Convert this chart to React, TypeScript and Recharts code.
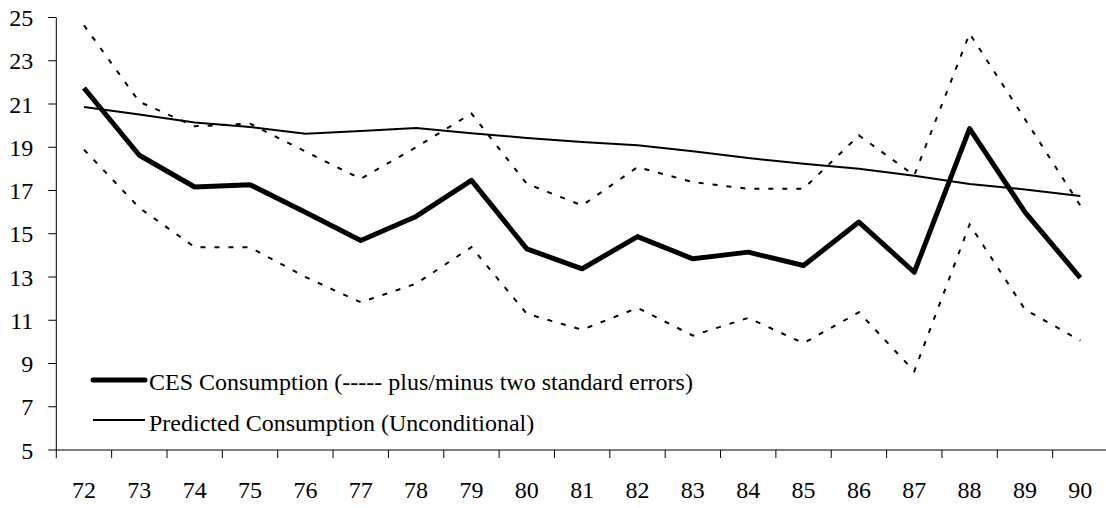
import React from 'react';
import { LineChart, Line, XAxis, YAxis } from 'recharts';

const years = ['72', '73', '74', '75', '76', '77', '78', '79', '80', '81', '82', '83', '84', '85', '86', '87', '88', '89', '90'];
const cesConsumption = [21.74, 18.63, 17.16, 17.27, 15.99, 14.69, 15.8, 17.47, 14.3, 13.38, 14.87, 13.84, 14.15, 13.53, 15.54, 13.22, 19.86, 16.0, 12.96];
const upperBand = [24.64, 21.1, 19.97, 20.09, 18.8, 17.54, 19.0, 20.56, 17.31, 16.31, 18.08, 17.39, 17.08, 17.08, 19.55, 17.7, 24.26, 20.3, 16.3];
const lowerBand = [18.89, 16.2, 14.38, 14.37, 13.0, 11.83, 12.69, 14.38, 11.3, 10.56, 11.57, 10.29, 11.11, 9.94, 11.37, 8.64, 15.43, 11.5, 10.06];
const predicted = [20.86, 20.51, 20.14, 19.94, 19.63, 19.75, 19.89, 19.65, 19.43, 19.24, 19.09, 18.82, 18.5, 18.24, 18.01, 17.68, 17.3, 17.05, 16.75];
const yTicks = [5, 7, 9, 11, 13, 15, 17, 19, 21, 23, 25];
const legendLabels = ['CES Consumption (----- plus/minus two standard errors)', 'Predicted Consumption (Unconditional)'];

const data = years.map((y, i) => ({
  year: y,
  ces: cesConsumption[i],
  upper: upperBand[i],
  lower: lowerBand[i],
  predicted: predicted[i],
}));

const FONT = '"Liberation Serif", "Times New Roman", serif';
const CHART_W = 1112;
const CHART_H = 508;
const MARGIN = { top: 17.5, right: 4, bottom: 0, left: 0 };
const Y_AXIS_W = 56.3;
const X_AXIS_H = 58;
const PLOT_LEFT = MARGIN.left + Y_AXIS_W;
const PLOT_RIGHT = CHART_W - MARGIN.right;
const PLOT_BOTTOM = CHART_H - MARGIN.bottom - X_AXIS_H;
const BAND = (PLOT_RIGHT - PLOT_LEFT) / years.length;

const XTick = (props: any) => {
  const { x, payload } = props;
  const left = x - BAND / 2;
  return (
    <g>
      <line x1={left} x2={left} y1={PLOT_BOTTOM} y2={PLOT_BOTTOM + 8} stroke="#000" strokeWidth={1} />
      <text x={x} y={PLOT_BOTTOM + 48} textAnchor="middle" fontFamily={FONT} fontSize={24} fill="#000">
        {payload.value}
      </text>
    </g>
  );
};

export default function App() {
  return (
    <div style={{ position: 'absolute', left: 0, top: 0, width: 1106, height: 508, overflow: 'hidden', background: '#fff' }}>
      <LineChart width={CHART_W} height={CHART_H} data={data} margin={MARGIN}>
        <XAxis
          dataKey="year"
          scale="band"
          interval={0}
          height={X_AXIS_H}
          tickLine={false}
          axisLine={{ stroke: '#000', strokeWidth: 1 }}
          tick={<XTick />}
        />
        <YAxis
          width={Y_AXIS_W}
          domain={[5, 25]}
          ticks={yTicks}
          interval={0}
          tickSize={8}
          tickMargin={15}
          axisLine={{ stroke: '#000', strokeWidth: 1 }}
          tickLine={{ stroke: '#000', strokeWidth: 1 }}
          tick={{ fill: '#000', fontSize: 24, fontFamily: FONT }}
        />
        <Line dataKey="upper" type="linear" stroke="#000" strokeWidth={2} strokeDasharray="5 9" dot={false} isAnimationActive={false} />
        <Line dataKey="lower" type="linear" stroke="#000" strokeWidth={2} strokeDasharray="5 9" dot={false} isAnimationActive={false} />
        <Line dataKey="predicted" type="linear" stroke="#000" strokeWidth={2} dot={false} isAnimationActive={false} />
        <Line dataKey="ces" type="linear" stroke="#000" strokeWidth={5} strokeLinejoin="round" dot={false} isAnimationActive={false} />
      </LineChart>
      <svg width={700} height={80} style={{ position: 'absolute', left: 80, top: 360 }}>
        <line x1={13} x2={65} y1={20} y2={20} stroke="#000" strokeWidth={5} strokeLinecap="round" />
        <text x={69} y={30} fontFamily={FONT} fontSize={24} fill="#000">{legendLabels[0]}</text>
        <line x1={13} x2={65} y1={60} y2={60} stroke="#000" strokeWidth={2} />
        <text x={69} y={70.5} fontFamily={FONT} fontSize={24} fill="#000">{legendLabels[1]}</text>
      </svg>
    </div>
  );
}
